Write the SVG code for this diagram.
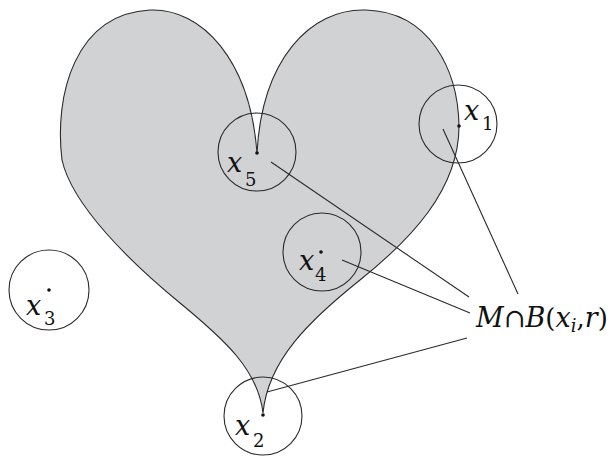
<svg xmlns="http://www.w3.org/2000/svg" width="612" height="456" viewBox="0 0 612 456">
<style>
.ln{fill:none;stroke:#2a2a2a;stroke-width:1.1}
.ball{fill:none;stroke:#2a2a2a;stroke-width:1.1}
.dot{fill:#111}
text{font-family:'DejaVu Serif','Liberation Serif',serif;fill:#111}
.it{font-style:italic;font-size:27px}
.sub{font-size:18px}
.up{font-style:normal;font-size:26px}
</style>
<rect width="612" height="456" fill="#fff"/>
<g id="heart">
<path d="M263,413 C258,370 225,340 180,303 C130,262 72,205 62,160 C54,95 75,14 150,10 C202,8 250,60 257,153 C262,60 310,8 366,10 C430,12 458,70 459,126 C459,190 410,240 360,280 C310,320 268,360 263,413 Z" fill="#d1d2d4" stroke="#2a2a2a" stroke-width="1.1"/>
</g>
<g id="ball-x5">
<circle class="ball" cx="257" cy="152" r="39"/>
<circle class="dot" cx="257" cy="153" r="1.8"/>
<text class="it" x="227" y="172">x</text><text class="sub" x="245" y="186">5</text>
</g>
<g id="ball-x1">
<circle class="ball" cx="458" cy="124" r="39"/>
<circle class="dot" cx="459" cy="126" r="1.8"/>
<text class="it" x="464" y="120">x</text><text class="sub" x="482" y="130">1</text>
</g>
<g id="ball-x3">
<circle class="ball" cx="49" cy="290" r="40"/>
<circle class="dot" cx="49" cy="290" r="1.8"/>
<text class="it" x="26" y="315">x</text><text class="sub" x="44" y="325">3</text>
</g>
<g id="ball-x4">
<circle class="ball" cx="322" cy="252" r="39"/>
<circle class="dot" cx="321" cy="252" r="1.8"/>
<text class="it" x="299" y="270">x</text><text class="sub" x="315" y="281">4</text>
</g>
<g id="ball-x2">
<circle class="ball" cx="263" cy="416" r="39"/>
<circle class="dot" cx="263" cy="415" r="1.8"/>
<text class="it" x="235" y="435">x</text><text class="sub" x="253" y="447">2</text>
</g>
<g id="connectors">
<line class="ln" x1="271" y1="162" x2="469" y2="297"/>
<line class="ln" x1="342" y1="260" x2="470" y2="313"/>
<line class="ln" x1="267" y1="392" x2="467" y2="338"/>
<line class="ln" x1="443" y1="129" x2="518" y2="294"/>
</g>
<g id="label">
<text x="476" y="327"><tspan class="it">M</tspan><tspan class="up">∩</tspan><tspan class="it">B</tspan><tspan class="up">(</tspan><tspan class="it">x</tspan><tspan class="sub" font-style="italic" dy="5">i</tspan><tspan class="up" dy="-5">,</tspan><tspan class="it">r</tspan><tspan class="up">)</tspan></text>
</g>
</svg>
